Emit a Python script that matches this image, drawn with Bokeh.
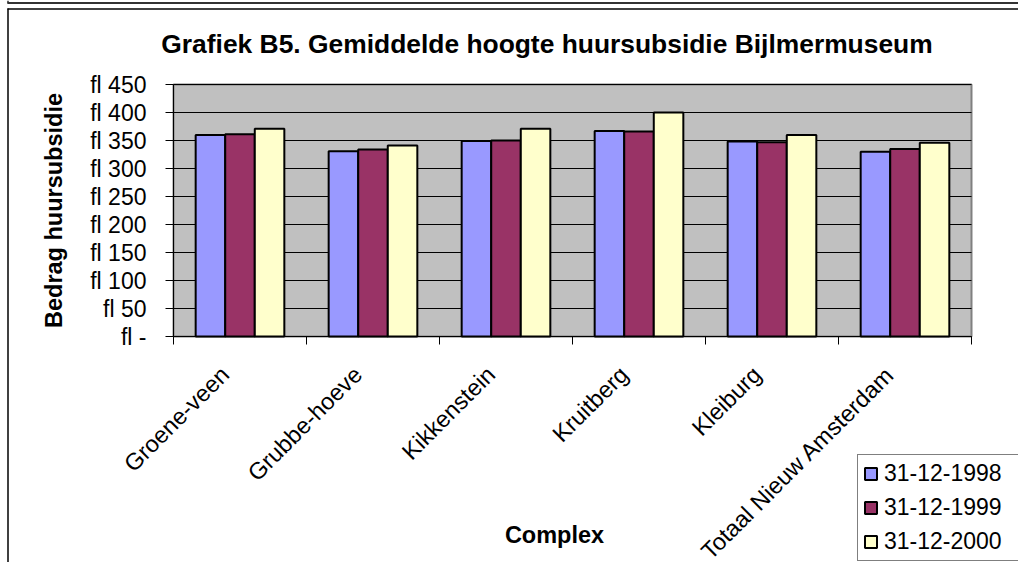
import math
from bokeh.plotting import figure
from bokeh.models import (ColumnDataSource, FixedTicker, Range1d, Label, LinearAxis,
                          Grid)
from bokeh.transform import dodge
from bokeh.embed import file_html
from bokeh.resources import INLINE

# ---- data ----
categories = ["Groene-veen", "Grubbe-hoeve", "Kikkenstein", "Kruitberg",
              "Kleiburg", "Totaal Nieuw Amsterdam"]
v1998 = [360, 331, 349, 367, 348, 330]
v1999 = [361, 334, 350, 366, 347, 335]
v2000 = [371, 341, 371, 400, 360, 346]
series_labels = ["31-12-1998", "31-12-1999", "31-12-2000"]
y_ticks = [0, 50, 100, 150, 200, 250, 300, 350, 400, 450]
y_tick_labels = ["fl -", "fl 50", "fl 100", "fl 150", "fl 200", "fl 250",
                 "fl 300", "fl 350", "fl 400", "fl 450"]
title_text = "Grafiek B5. Gemiddelde hoogte huursubsidie Bijlmermuseum"
x_title = "Complex"
y_title = "Bedrag huursubsidie"

colors = ["#9999FF", "#993366", "#FFFFCC"]
FONT = "Liberation Sans"

n = len(categories)
ymax = y_ticks[-1]

# ---- geometry (pixels) ----
W, H = 1018, 562            # figure size
PX_LEFT, PX_TOP = 173, 84   # plot-area corner inside the figure
PX_CAT = 133.0              # pixels per category
PX_Y = 252.0 / ymax         # pixels per unit
x_start = -PX_LEFT / PX_CAT
x_end = (W - PX_LEFT) / PX_CAT
y_end = ymax + PX_TOP / PX_Y
y_start = ymax - (H - PX_TOP) / PX_Y


def dx(px):
    return (px - PX_LEFT) / PX_CAT


def dy(py):
    return ymax + (PX_TOP - py) / PX_Y


centers = [i + 0.5 for i in range(n)]
source = ColumnDataSource(dict(x=centers, s0=v1998, s1=v1999, s2=v2000))

p = figure(width=W, height=H,
           x_range=Range1d(x_start, x_end), y_range=Range1d(y_start, y_end),
           x_axis_type=None, y_axis_type=None,
           output_backend="svg", toolbar_location=None,
           min_border=0, min_border_left=0, min_border_right=0,
           min_border_top=0, min_border_bottom=0,
           background_fill_color="white", border_fill_color="white",
           outline_line_color=None)

# chart box borders (page frame lines)
p.segment(x0=[dx(7), dx(7.5), dx(7), dx(7.5)], y0=[dy(2.5), dy(0), dy(8.5), dy(8)],
          x1=[dx(W), dx(7.5), dx(W), dx(7.5)], y1=[dy(2.5), dy(3), dy(8.5), dy(H)],
          line_color=["#333333", "#333333", "black", "black"],
          line_width=[2, 1.5, 1.5, 1.5])

# plot area background with grey border
p.quad(left=[0], right=[n], bottom=[0], top=[ymax], fill_color="#C0C0C0",
       line_color="#808080", line_width=2, level="image")

# horizontal gridlines
grid = Grid(dimension=1, ticker=FixedTicker(ticks=y_ticks),
            grid_line_color="black", grid_line_width=1)
if "cross_bounds" in grid.properties():
    grid.cross_bounds = (0, n)
    p.add_layout(grid)
else:
    p.segment(x0=[0] * len(y_ticks), x1=[n] * len(y_ticks), y0=y_ticks, y1=y_ticks,
              line_color="black", line_width=1, level="underlay")

bw = 1 / 4.5
offsets = [-bw, 0, bw]
for j, (col, lab, c) in enumerate(zip(["s0", "s1", "s2"], series_labels, colors)):
    p.vbar(x=dodge("x", offsets[j]), top=col, width=bw, bottom=0, source=source,
           fill_color=c, line_color="black", line_width=2, legend_label=lab)

# y axis at x = 0
yax = LinearAxis(fixed_location=0, bounds=(0, ymax), ticker=FixedTicker(ticks=y_ticks))
yax.major_label_overrides = {t: l for t, l in zip(y_ticks, y_tick_labels)}
yax.major_tick_in = 0
yax.major_tick_out = 8
yax.minor_tick_line_color = None
yax.major_label_standoff = 19
yax.major_label_text_font = FONT
yax.major_label_text_font_size = "23px"
yax.major_label_text_color = "black"
yax.axis_line_color = "black"
yax.major_tick_line_color = "black"
p.add_layout(yax, "left")

# x axis at y = 0, ticks at category boundaries, labels at categories
label_shift = 15 / PX_CAT
xax = LinearAxis(fixed_location=0, bounds=(0, n),
                 ticker=FixedTicker(ticks=[c - label_shift for c in centers],
                                    minor_ticks=list(range(n + 1))))
xax.major_label_overrides = {c - label_shift: l for c, l in zip(centers, categories)}
xax.major_tick_in = 0
xax.major_tick_out = 0
xax.major_tick_line_color = None
xax.minor_tick_in = 0
xax.minor_tick_out = 8
xax.minor_tick_line_color = "black"
xax.major_label_orientation = math.pi / 4
xax.major_label_standoff = 26
xax.major_label_text_font = FONT
xax.major_label_text_font_size = "23.5px"
xax.major_label_text_color = "black"
xax.axis_line_color = "black"
p.add_layout(xax, "below")

# titles
p.add_layout(Label(x=dx(546.5), y=dy(43), text=title_text,
                   text_font=FONT, text_font_size="26.4px", text_font_style="bold",
                   text_align="center", text_baseline="middle", text_color="black"))
p.add_layout(Label(x=dx(554), y=dy(534), text=x_title,
                   text_font=FONT, text_font_size="23.5px", text_font_style="bold",
                   text_align="center", text_baseline="middle", text_color="black"))
p.add_layout(Label(x=dx(53), y=dy(210), text=y_title, angle=math.pi / 2,
                   text_font=FONT, text_font_size="23.5px", text_font_style="bold",
                   text_align="center", text_baseline="middle", text_color="black"))

# legend
lg = p.legend[0]
lg.location = (857, H - 561)
lg.label_text_font = FONT
lg.label_text_font_size = "23px"
lg.label_text_color = "black"
lg.border_line_color = "black"
lg.border_line_width = 1
lg.background_fill_color = "white"
lg.background_fill_alpha = 1
lg.padding = 5
lg.spacing = 7
lg.margin = 0
lg.glyph_width = 15
lg.glyph_height = 15
lg.label_standoff = 6
lg.label_width = 130

open("out.html", "w").write(file_html(p, INLINE))
